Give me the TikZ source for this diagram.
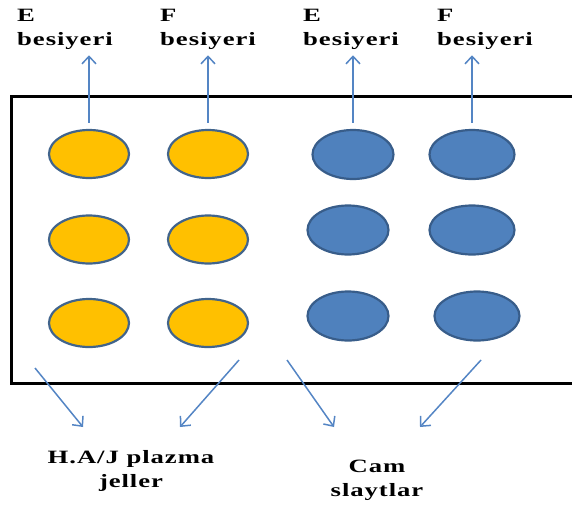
\documentclass[tikz,border=0pt]{standalone}
\usepackage{fontspec}
\setmainfont{Liberation Serif}
\newfontfamily\lblfont[FakeStretch=1.42,LetterSpace=5]{Liberation Serif}
\usetikzlibrary{shapes.geometric, arrows.meta, positioning}

\definecolor{gold}{RGB}{255,192,0}
\definecolor{goldedge}{RGB}{65,100,140}
\definecolor{plate}{RGB}{79,129,189}
\definecolor{plateedge}{RGB}{56,93,138}
\definecolor{pointer}{RGB}{84,133,196}

\tikzset{
  gel/.style={ellipse, draw=goldedge, line width=2.2pt, fill=gold, minimum width=80pt, minimum height=48pt, inner sep=0pt},
  slide/.style={ellipse, draw=plateedge, line width=2.2pt, fill=plate, minimum width=81pt, minimum height=49pt, inner sep=0pt},
  lbl/.style={font=\lblfont\bfseries\fontsize{18.8}{24}\selectfont, inner sep=0pt},
  ptr/.style={draw=pointer, line width=1.5pt, -{Straight Barb[length=7.5pt,width=14pt]}}
}

\begin{document}
\begin{tikzpicture}[x=1pt, y=-1pt]
  \useasboundingbox (0,0) rectangle (572,506);

  % tray
  \draw[line width=3pt] (11.5,96) rectangle (600,383);

  % plasma gels
  \node[gel] (g11) at (89,154) {};
  \node[gel] (g12) at (208,154) {};
  \node[gel] (g21) at (89,239.5) {};
  \node[gel] (g22) at (208,239.5) {};
  \node[gel] (g31) at (89,323) {};
  \node[gel] (g32) at (208,323) {};

  % glass slides
  \node[slide] (s11) at (353,154.5) {};
  \node[slide, minimum width=85pt] (s12) at (472,154.5) {};
  \node[slide] (s21) at (348,230) {};
  \node[slide, minimum width=85pt] (s22) at (472,230) {};
  \node[slide] (s31) at (348,316) {};
  \node[slide, minimum width=85pt] (s32) at (477,316) {};

  % media labels (base = last line)
  \node[lbl, anchor=base west, align=left] (e1) at (17,45) {E\\besiyeri};
  \node[lbl, anchor=base west, align=left] (f1) at (160,45) {F\\besiyeri};
  \node[lbl, anchor=base west, align=left] (e2) at (303,45) {E\\besiyeri};
  \node[lbl, anchor=base west, align=left] (f2) at (437,45) {F\\besiyeri};

  \draw[ptr, shorten <=6pt, shorten >=6pt] (g11.north) -- (g11 |- e1.south);
  \draw[ptr, shorten <=6pt, shorten >=6pt] (g12.north) -- (g12 |- f1.south);
  \draw[ptr, shorten <=6pt, shorten >=6pt] (s11.north) -- (s11 |- e2.south);
  \draw[ptr, shorten <=6pt, shorten >=6pt] (s12.north) -- (s12 |- f2.south);

  % bottom labels
  \node[lbl, anchor=base, align=center] (gels) at (131,487) {H.A/J plazma\\jeller};
  \node[lbl, anchor=base, align=center] (glass) at (377,496) {Cam\\slaytlar};

  \coordinate (gA) at (35,368);   \coordinate (gAtip) at (83,427);
  \coordinate (gB) at (239,360);  \coordinate (gBtip) at (180,427);
  \coordinate (cA) at (287,360);  \coordinate (cAtip) at (334,427);
  \coordinate (cB) at (481,360);  \coordinate (cBtip) at (420,427);

  \draw[ptr] (gA) -- (gAtip);
  \draw[ptr] (gB) -- (gBtip);
  \draw[ptr] (cA) -- (cAtip);
  \draw[ptr] (cB) -- (cBtip);
\end{tikzpicture}
\end{document}
